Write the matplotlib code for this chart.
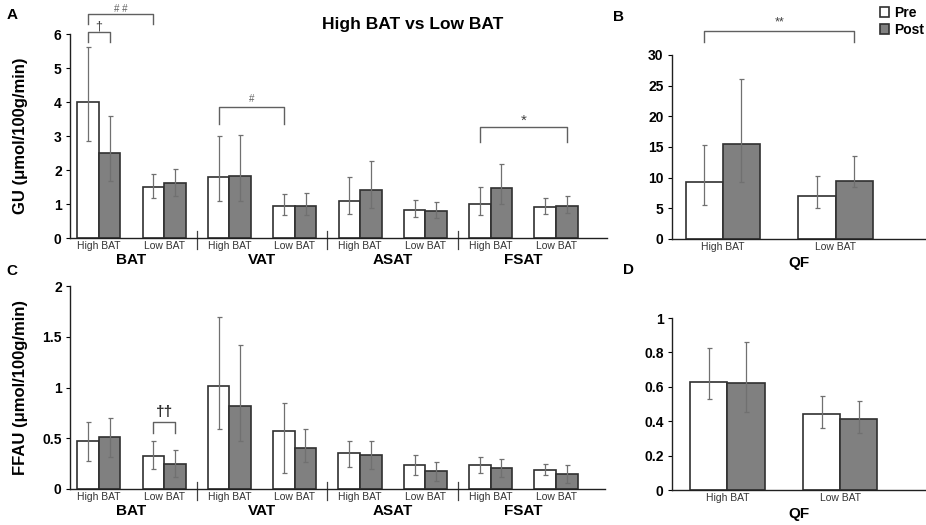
import numpy as np
import matplotlib
matplotlib.use('Agg')
import matplotlib.pyplot as plt

plt.rcParams['font.family'] = ['Liberation Sans', 'DejaVu Sans']

# categories
groups = ['High BAT', 'Low BAT']
depots = ['BAT', 'VAT', 'ASAT', 'FSAT']
cats = groups * 4

# A: GU per depot (values, lower and upper end of error bar)
gu_pre = [4.0, 1.5, 1.8, 0.93, 1.10, 0.83, 1.0, 0.90]
gu_pre_lo = [2.84, 1.17, 1.09, 0.67, 0.70, 0.62, 0.68, 0.70]
gu_pre_hi = [5.61, 1.88, 2.99, 1.29, 1.80, 1.11, 1.49, 1.17]
gu_post = [2.5, 1.61, 1.82, 0.94, 1.41, 0.79, 1.48, 0.94]
gu_post_lo = [1.69, 1.24, 1.09, 0.67, 0.87, 0.58, 1.0, 0.73]
gu_post_hi = [3.58, 2.02, 3.02, 1.31, 2.27, 1.07, 2.17, 1.24]

# B: GU in QF
qf_gu_pre = [9.22, 7.05]
qf_gu_pre_lo = [5.48, 5.05]
qf_gu_pre_hi = [15.35, 10.2]
qf_gu_post = [15.5, 9.5]
qf_gu_post_lo = [9.22, 8.46]
qf_gu_post_hi = [26.15, 13.6]

# C: FFAU per depot
ffau_pre = [0.47, 0.33, 1.01, 0.57, 0.35, 0.236, 0.236, 0.19]
ffau_pre_lo = [0.28, 0.20, 0.59, 0.16, 0.22, 0.134, 0.157, 0.134]
ffau_pre_hi = [0.66, 0.47, 1.69, 0.85, 0.475, 0.334, 0.315, 0.25]
ffau_post = [0.51, 0.25, 0.82, 0.40, 0.335, 0.18, 0.203, 0.15]
ffau_post_lo = [0.32, 0.115, 0.47, 0.27, 0.20, 0.08, 0.115, 0.06]
ffau_post_hi = [0.695, 0.38, 1.42, 0.59, 0.47, 0.27, 0.295, 0.236]

# D: FFAU in QF
qf_ffau_pre = [0.627, 0.44]
qf_ffau_pre_lo = [0.528, 0.36]
qf_ffau_pre_hi = [0.824, 0.545]
qf_ffau_post = [0.623, 0.414]
qf_ffau_post_lo = [0.455, 0.333]
qf_ffau_post_hi = [0.86, 0.52]

W, H = 926, 525
fig = plt.figure(figsize=(W / 100, H / 100), dpi=100)


def px_axes(left, right, top, bottom):
    return fig.add_axes([left / W, (H - bottom) / H, (right - left) / W, (bottom - top) / H])


bw = 0.33
edge = '#303030'
errc = '#707070'


def draw_bars(ax, pre, pre_lo, pre_hi, post, post_lo, post_hi):
    x = np.arange(len(pre))
    pre = np.array(pre)
    post = np.array(post)
    e1 = [pre - np.array(pre_lo), np.array(pre_hi) - pre]
    e2 = [post - np.array(post_lo), np.array(post_hi) - post]
    kw = dict(ecolor=errc, capsize=1.8, error_kw=dict(elinewidth=0.9, capthick=0.9))
    b1 = ax.bar(x - bw / 2, pre, bw, color='white', edgecolor=edge, linewidth=1.2,
                yerr=e1, label='Pre', **kw)
    b2 = ax.bar(x + bw / 2, post, bw, color='#808080', edgecolor=edge, linewidth=1.2,
                yerr=e2, label='Post', **kw)
    for s in ['top', 'right']:
        ax.spines[s].set_visible(False)
    for s in ['left', 'bottom']:
        ax.spines[s].set_color('#202020')
        ax.spines[s].set_linewidth(1.0)
    ax.tick_params(axis='y', length=3, width=0.8, labelsize=10, pad=3)
    ax.tick_params(axis='x', length=0, labelsize=7.5, pad=2, labelcolor='#333333')
    for t in ax.get_yticklabels():
        t.set_fontweight('bold')
    ax.yaxis.set_major_formatter(matplotlib.ticker.FuncFormatter(lambda v, p: '{:g}'.format(v)))
    return b1, b2


def bracket(ax, x1, x2, ytop, yleg, txt, ty, size=8, color='#606060', weight='normal'):
    ax.plot([x1, x1, x2, x2], [yleg, ytop, ytop, yleg], color='#606060', lw=1.0, clip_on=False)
    ax.text((x1 + x2) / 2, ty, txt, ha='center', va='center', fontsize=size,
            color=color, fontweight=weight, clip_on=False)


def depot_labels(ax, axh):
    ax.set_xticks(range(8))
    ax.set_xticklabels(cats)
    for k, d in enumerate(depots):
        ax.annotate(d, xy=(2 * k + 0.5, 0), xycoords=('data', 'axes fraction'),
                    xytext=(0, -22), textcoords='offset pixels', ha='center', va='center',
                    fontsize=11, fontweight='bold')
    for xd in [1.5, 3.5, 5.5]:
        ax.plot([xd, xd], [7 / axh, -11 / axh], color='#404040', lw=0.9,
                transform=ax.get_xaxis_transform(), clip_on=False)


# panel A
axA = px_axes(70, 607, 34, 238)
draw_bars(axA, gu_pre, gu_pre_lo, gu_pre_hi, gu_post, gu_post_lo, gu_post_hi)
axA.set_ylim(0, 6)
axA.set_xlim(-0.44, 7.78)
axA.set_yticks(range(7))
axA.set_ylabel('GU (μmol/100g/min)', fontsize=12, fontweight='bold')
axA.yaxis.set_label_coords(-42 / 537, 0.5)
depot_labels(axA, 204)
bracket(axA, -bw / 2, 1 - bw / 2, 6.59, 6.29, '# #', 6.74, size=7)
bracket(axA, -bw / 2, bw / 2, 6.06, 5.76, '†', 6.22, size=9, color='#404040')
bracket(axA, 2 - bw / 2, 3 - bw / 2, 3.85, 3.35, '#', 4.1, size=7)
bracket(axA, 6 - bw / 2, 7 + bw / 2, 3.26, 2.82, '*', 3.45, size=11, color='#404040')

# panel B
axB = px_axes(672, 926, 55, 239)
bB = draw_bars(axB, qf_gu_pre, qf_gu_pre_lo, qf_gu_pre_hi, qf_gu_post, qf_gu_post_lo, qf_gu_post_hi)
axB.set_ylim(0, 30)
axB.set_xlim(-0.45, 1.80)
axB.set_yticks(range(0, 31, 5))
axB.set_xticks(range(2))
axB.set_xticklabels(groups)
axB.set_xlabel('QF', fontsize=11, fontweight='bold', labelpad=3)
bracket(axB, -bw / 2, 1 + bw / 2, 33.9, 32.1, '**', 35.3, size=9, color='#404040')
fig.legend(handles=list(bB), loc='upper left', bbox_to_anchor=(880 / W, 1 - 6 / H),
           frameon=False, handlelength=0.65, handleheight=0.75, handletextpad=0.35,
           labelspacing=0.2, prop={'weight': 'bold', 'size': 10}, borderpad=0,
           borderaxespad=0)

# panel C
axC = px_axes(70, 605, 286, 489)
draw_bars(axC, ffau_pre, ffau_pre_lo, ffau_pre_hi, ffau_post, ffau_post_lo, ffau_post_hi)
axC.set_ylim(0, 2)
axC.set_xlim(-0.44, 7.75)
axC.set_yticks([0, 0.5, 1, 1.5, 2])
axC.set_ylabel('FFAU (μmol/100g/min)', fontsize=12, fontweight='bold')
axC.yaxis.set_label_coords(-42 / 535, 0.5)
depot_labels(axC, 203)
bracket(axC, 1 - bw / 2, 1 + bw / 2, 0.66, 0.55, '††', 0.76, size=11, color='#303030', weight='bold')

# panel D
axD = px_axes(672, 926, 318, 490)
draw_bars(axD, qf_ffau_pre, qf_ffau_pre_lo, qf_ffau_pre_hi, qf_ffau_post, qf_ffau_post_lo, qf_ffau_post_hi)
axD.set_ylim(0, 1)
axD.set_xlim(-0.49, 1.76)
axD.set_yticks([0, 0.2, 0.4, 0.6, 0.8, 1])
axD.set_xticks(range(2))
axD.set_xticklabels(groups)
axD.set_xlabel('QF', fontsize=11, fontweight='bold', labelpad=3)

fig.text(413 / W, 1 - 25 / H, 'High BAT vs Low BAT', ha='center', va='center',
         fontsize=12.5, fontweight='bold')
for lab, xp, yp in [('A', 12, 15), ('B', 618, 17), ('C', 12, 271), ('D', 628, 270)]:
    fig.text(xp / W, 1 - yp / H, lab, ha='center', va='center', fontsize=11, fontweight='bold')

plt.savefig('out.png', dpi=100)
